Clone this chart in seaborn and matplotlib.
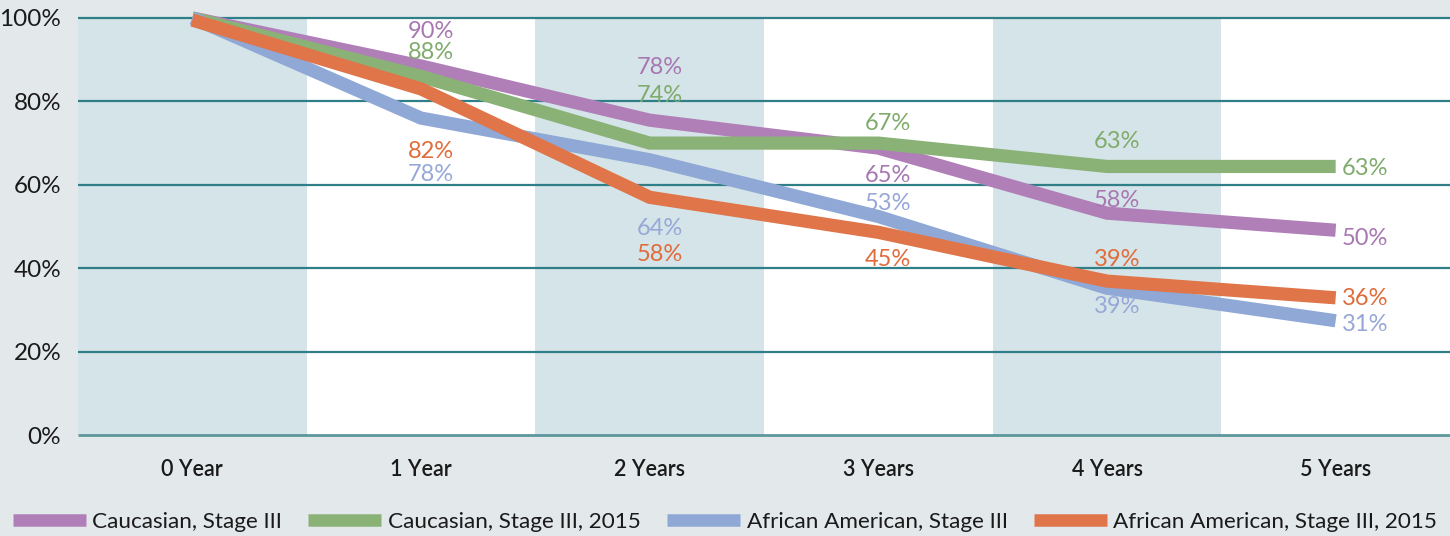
import numpy as np
import pandas as pd
import matplotlib.pyplot as plt
import seaborn as sns
from matplotlib.lines import Line2D

#---------Data-----------
years = ["0 Year", "1 Year", "2 Years", "3 Years", "4 Years", "5 Years"]
series = ["Caucasian, Stage III", "Caucasian, Stage III, 2015",
          "African American, Stage III", "African American, Stage III, 2015"]

cauc = [100, 88.5, 75.5, 68.8, 53.2, 49.1]
cauc_2015 = [100, 86, 70, 70, 64.4, 64.4]
aa = [100, 76, 66, 52.4, 35.2, 27.4]
aa_2015 = [99.5, 83, 57, 48.6, 36.9, 32.9]

cauc_lbl = ["", "90%", "78%", "65%", "58%", "50%"]
cauc_2015_lbl = ["", "88%", "74%", "67%", "63%", "63%"]
aa_lbl = ["", "78%", "64%", "53%", "39%", "31%"]
aa_2015_lbl = ["", "82%", "58%", "45%", "39%", "36%"]

#---------Styles-----------
colors = ["#b07fb8", "#8ab277", "#8fa8d6", "#df7549"]
text_colors = ["#a877b2", "#7fab6c", "#97a8d8", "#e06c3b"]
# label vertical offsets in pixels (up = positive)
cauc_dy = [0, 34, 53, -27, 13, -8]
cauc_2015_dy = [0, 24, 48, 20, 25, -2]
aa_dy = [0, -56, -69, 13, -18, -4]
aa_2015_dy = [0, -63, -57, -27, 22, -1]

values = [cauc, cauc_2015, aa, aa_2015]
labels = [cauc_lbl, cauc_2015_lbl, aa_lbl, aa_2015_lbl]
offsets = [cauc_dy, cauc_2015_dy, aa_dy, aa_2015_dy]

rows = []
for name, vals in zip(series, values):
    for i, v in enumerate(vals):
        rows.append({"series": name, "x": i, "value": v})
df = pd.DataFrame(rows)

#---------Plot-----------
sns.set_style("white")
plt.rcParams["font.family"] = ["Lato", "DejaVu Sans"]

bg = "#e3e8eb"
fig = plt.figure(figsize=(14.5, 5.36), dpi=100, facecolor=bg)
ax = fig.add_axes([78 / 1450, 101 / 536, 1372 / 1450, 417 / 536])
ax.set_facecolor("white")

for i in range(0, len(years), 2):
    ax.axvspan(i - 0.5, i + 0.5, color="#d5e4e8", lw=0, zorder=0)

for y in [20, 40, 60, 80, 100]:
    ax.axhline(y, color="#2e7f88", lw=1.6, zorder=1)
ax.axhline(0, color="#5c979c", lw=2, zorder=1, clip_on=False)

sns.lineplot(data=df, x="x", y="value", hue="series", palette=colors,
             linewidth=9.5, ax=ax, legend=False, zorder=3)
for line in ax.get_lines():
    line.set_solid_joinstyle("miter")
    line.set_solid_capstyle("butt")
    line.set_clip_on(False)

#---------Value labels-----------
for vals, lbls, dys, tc in zip(values, labels, offsets, text_colors):
    for i, (v, t, dy) in enumerate(zip(vals, lbls, dys)):
        if not t:
            continue
        if i == len(years) - 1:
            ax.annotate(t, (i, v), xytext=(6, dy), textcoords="offset pixels",
                        ha="left", va="center", fontsize=17, color=tc)
        else:
            ax.annotate(t, (i, v), xytext=(10, dy), textcoords="offset pixels",
                        ha="center", va="center", fontsize=17, color=tc)

ax.set_xlim(-0.5, 5.5)
ax.set_ylim(0, 100)
ax.set_xticks(range(len(years)))
ax.set_xticklabels(years, fontsize=15.5, fontweight="semibold", color="#1a1a1a")
ax.set_yticks([0, 20, 40, 60, 80, 100])
ax.set_yticklabels([f"{t}%" for t in [0, 20, 40, 60, 80, 100]], fontsize=17.5, color="#1a1a1a")
ax.tick_params(axis="both", length=0)
ax.tick_params(axis="x", pad=17)
ax.tick_params(axis="y", pad=12)
ax.set_xlabel("")
ax.set_ylabel("")
sns.despine(ax=ax, left=True, bottom=True)

#---------Legend-----------
handles = [Line2D([], [], color=c, lw=9, solid_capstyle="butt") for c in colors]
fig.legend(handles, series, loc="lower center", bbox_to_anchor=(0.5, -0.03), ncol=4,
           frameon=False, fontsize=16.2, handlelength=3.25, handletextpad=0.3,
           columnspacing=1.15, labelcolor="#1a1a1a")

plt.savefig("out.png", dpi=100, facecolor=bg)
